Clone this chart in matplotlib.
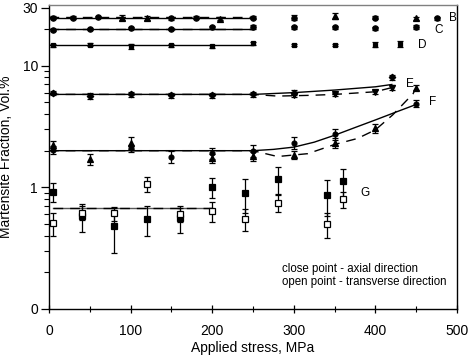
import matplotlib
matplotlib.use("Agg")
import matplotlib.pyplot as plt
from matplotlib.ticker import FixedLocator, LogLocator, NullFormatter, MultipleLocator

plt.rcParams['font.family'] = ['Liberation Sans', 'DejaVu Sans']

# ---- measured points: axial (closed) and transverse (open) ----
bAxX = [5, 30, 60, 150, 180, 250, 300, 400, 475]
bAxY = [24.8, 24.8, 25.2, 24.5, 24.8, 24.8, 24.8, 24.8, 24.4]
bAxE = [0.6, 0.6, 0.6, 0.6, 0.6, 0.8, 1.2, 0.6, 0.8]
bTrX = [90, 120, 210, 350, 450]
bTrY = [24.8, 24.6, 24.3, 25.6, 24.4]
bTrE = [1.2, 0.8, 0.8, 1.5, 0.8]

cAxX = [5, 50, 100, 150, 200, 250, 300, 350, 400, 450]
cAxY = [19.6, 20.0, 20.4, 20.0, 20.6, 20.8, 20.6, 20.6, 20.2, 20.8]
cAxE = [0.5, 0.5, 0.5, 0.5, 0.5, 0.8, 0.5, 0.5, 0.5, 0.8]

dAxX = [5, 50, 100, 150, 200, 250, 300, 350, 400, 430]
dAxY = [14.7, 14.9, 14.4, 14.7, 14.4, 15.3, 14.8, 14.8, 14.8, 15.1]
dAxE = [0.4, 0.4, 0.6, 0.4, 0.4, 0.4, 0.4, 0.4, 0.7, 0.8]

eAxX = [5, 50, 100, 150, 200, 250, 300, 420]
eAxY = [5.98, 5.62, 5.81, 5.7, 5.7, 5.81, 6.0, 8.0]
eAxE = [0.25, 0.3, 0.25, 0.3, 0.25, 0.25, 0.25, 0.35]
eTrX = [300, 350, 400, 420]
eTrY = [5.7, 5.8, 6.05, 6.6]
eTrE = [0.2, 0.2, 0.25, 0.3]

fAxX = [5, 100, 150, 200, 250, 300, 350, 450]
fAxY = [2.02, 2.09, 1.78, 1.90, 2.0, 2.32, 2.74, 4.88]
fAxE = [0.15, 0.15, 0.2, 0.2, 0.22, 0.25, 0.3, 0.3]
fTrX = [5, 50, 100, 200, 250, 300, 350, 400, 450]
fTrY = [2.22, 1.70, 2.32, 1.74, 1.81, 1.85, 2.32, 3.06, 6.6]
fTrE = [0.18, 0.18, 0.26, 0.15, 0.15, 0.15, 0.2, 0.25, 0.3]

gAxX = [5, 40, 80, 120, 160, 200, 240, 280, 340, 360]
gAxY = [0.92, 0.58, 0.48, 0.55, 0.56, 1.0, 0.89, 1.18, 0.86, 1.12]
gAxE = [0.16, 0.15, 0.19, 0.15, 0.14, 0.19, 0.27, 0.3, 0.28, 0.3]
gTrX = [5, 40, 80, 120, 160, 200, 240, 280, 340, 360]
gTrY = [0.51, 0.62, 0.61, 1.07, 0.60, 0.64, 0.55, 0.75, 0.50, 0.80]
gTrE = [0.11, 0.08, 0.08, 0.15, 0.08, 0.12, 0.11, 0.12, 0.12, 0.12]

# ---- fitted curves ----
bLineX = [0, 250]
bSolidY = [24.4, 24.4]
bDashY = [25.2, 25.2]
cLineX = [0, 250]
cSolidY = [20.1, 20.1]
cDashY = [19.9, 19.9]
dLineX = [0, 250]
dSolidY = [14.7, 14.7]
eSolidX = [0, 250, 300, 350, 400, 420]
eSolidY = [5.8, 5.8, 6.0, 6.3, 6.7, 7.0]
eDashX = [0, 250, 280, 320, 350, 400, 420]
eDashY = [5.8, 5.8, 5.62, 5.7, 5.8, 6.1, 6.6]
fSolidX = [0, 250, 275, 300, 325, 350, 375, 400, 425, 450]
fSolidY = [2.0, 2.0, 2.05, 2.14, 2.35, 2.68, 3.1, 3.58, 4.15, 4.8]
fDashX = [0, 250, 280, 317, 350, 378, 400, 421, 446, 450]
fDashY = [2.0, 2.0, 1.79, 1.89, 2.25, 2.52, 2.97, 3.93, 5.87, 6.6]
gLineX = [5, 200]
gSolidY = [0.675, 0.675]
gDashY = [0.67, 0.67]

curveNames = ["B", "C", "D", "E", "F", "G"]
nameX = [490, 472, 452, 437, 466, 382]
nameY = [24.4, 19.8, 14.8, 7.07, 5.03, 0.89]

yTicks = [0.1, 1, 10, 30]
yTickLabels = ["0", "1", "10", "30"]

fig = plt.figure(figsize=(4.68, 3.57), dpi=100)
ax = fig.add_axes([0.1047, 0.1345, 0.872, 0.8515])

solid = dict(color="black", lw=1.0)
dashed = dict(color="black", lw=1.0, ls=(0, (7, 5)))

ax.plot(bLineX, bSolidY, **solid)
ax.plot(bLineX, bDashY, **dashed)
ax.plot(cLineX, cSolidY, **solid)
ax.plot(cLineX, cDashY, **dashed)
ax.plot(dLineX, dSolidY, **solid)
ax.plot(eSolidX, eSolidY, **solid)
ax.plot(eDashX, eDashY, **dashed)
ax.plot(fSolidX, fSolidY, **solid)
ax.plot(fDashX, fDashY, **dashed)
ax.plot(gLineX, gSolidY, color="0.35", lw=1.0)
ax.plot(gLineX, gDashY, **dashed)

eb = dict(ls="none", color="black", ecolor="black", elinewidth=0.9, capsize=2.5, capthick=0.9)

def points(xs, ys, es, marker, ms, face="black"):
	ax.errorbar(xs, ys, yerr=es, marker=marker, ms=ms, mfc=face, mec="black", mew=0.9, **eb)
#

points(bAxX, bAxY, bAxE, "o", 3.8)
points(bTrX, bTrY, bTrE, "^", 3.8)
points(cAxX, cAxY, cAxE, "o", 3.8)
points(dAxX, dAxY, dAxE, "s", 3.5)
points(eAxX, eAxY, eAxE, "D", 3.3)
points(eTrX, eTrY, eTrE, "v", 3.8)
points(fAxX, fAxY, fAxE, "o", 3.5)
points(fTrX, fTrY, fTrE, "^", 3.8)
points(gAxX, gAxY, gAxE, "s", 4.3)
points(gTrX, gTrY, gTrE, "s", 4.3, face="white")

for name, x, y in zip(curveNames, nameX, nameY):
	ax.text(x, y, name, fontsize=8.5, va="center", ha="left")
#

ax.text(286, 0.214, "close point - axial direction", fontsize=8.3, va="center")
ax.text(286, 0.167, "open point - transverse direction", fontsize=8.3, va="center")

ax.set_yscale("log")
ax.set_xlim(0, 500)
ax.set_ylim(0.1, 31.5)
ax.yaxis.set_major_locator(FixedLocator(yTicks))
ax.set_yticklabels(yTickLabels)
ax.yaxis.set_minor_locator(LogLocator(base=10, subs=[2, 3, 4, 5, 6, 7, 8, 9]))
ax.yaxis.set_minor_formatter(NullFormatter())
ax.xaxis.set_major_locator(MultipleLocator(100))
ax.xaxis.set_minor_locator(MultipleLocator(50))

ax.tick_params(axis="y", which="major", direction="out", length=6, width=0.9, labelsize=10, pad=2)
ax.tick_params(axis="y", which="minor", direction="out", length=3.5, width=0.8)
ax.tick_params(axis="x", which="major", direction="inout", length=6, width=0.9, labelsize=10, pad=8)
ax.tick_params(axis="x", which="minor", direction="inout", length=4, width=0.8)

for s in ax.spines.values():
	s.set_linewidth(1.0)
#
ax.spines["top"].set_color("0.5")

ax.set_xlabel("Applied stress, MPa", fontsize=10, labelpad=2)
ax.set_ylabel("Martensite Fraction, Vol.%", fontsize=10, labelpad=7)

fig.savefig("out.png", dpi=100)
